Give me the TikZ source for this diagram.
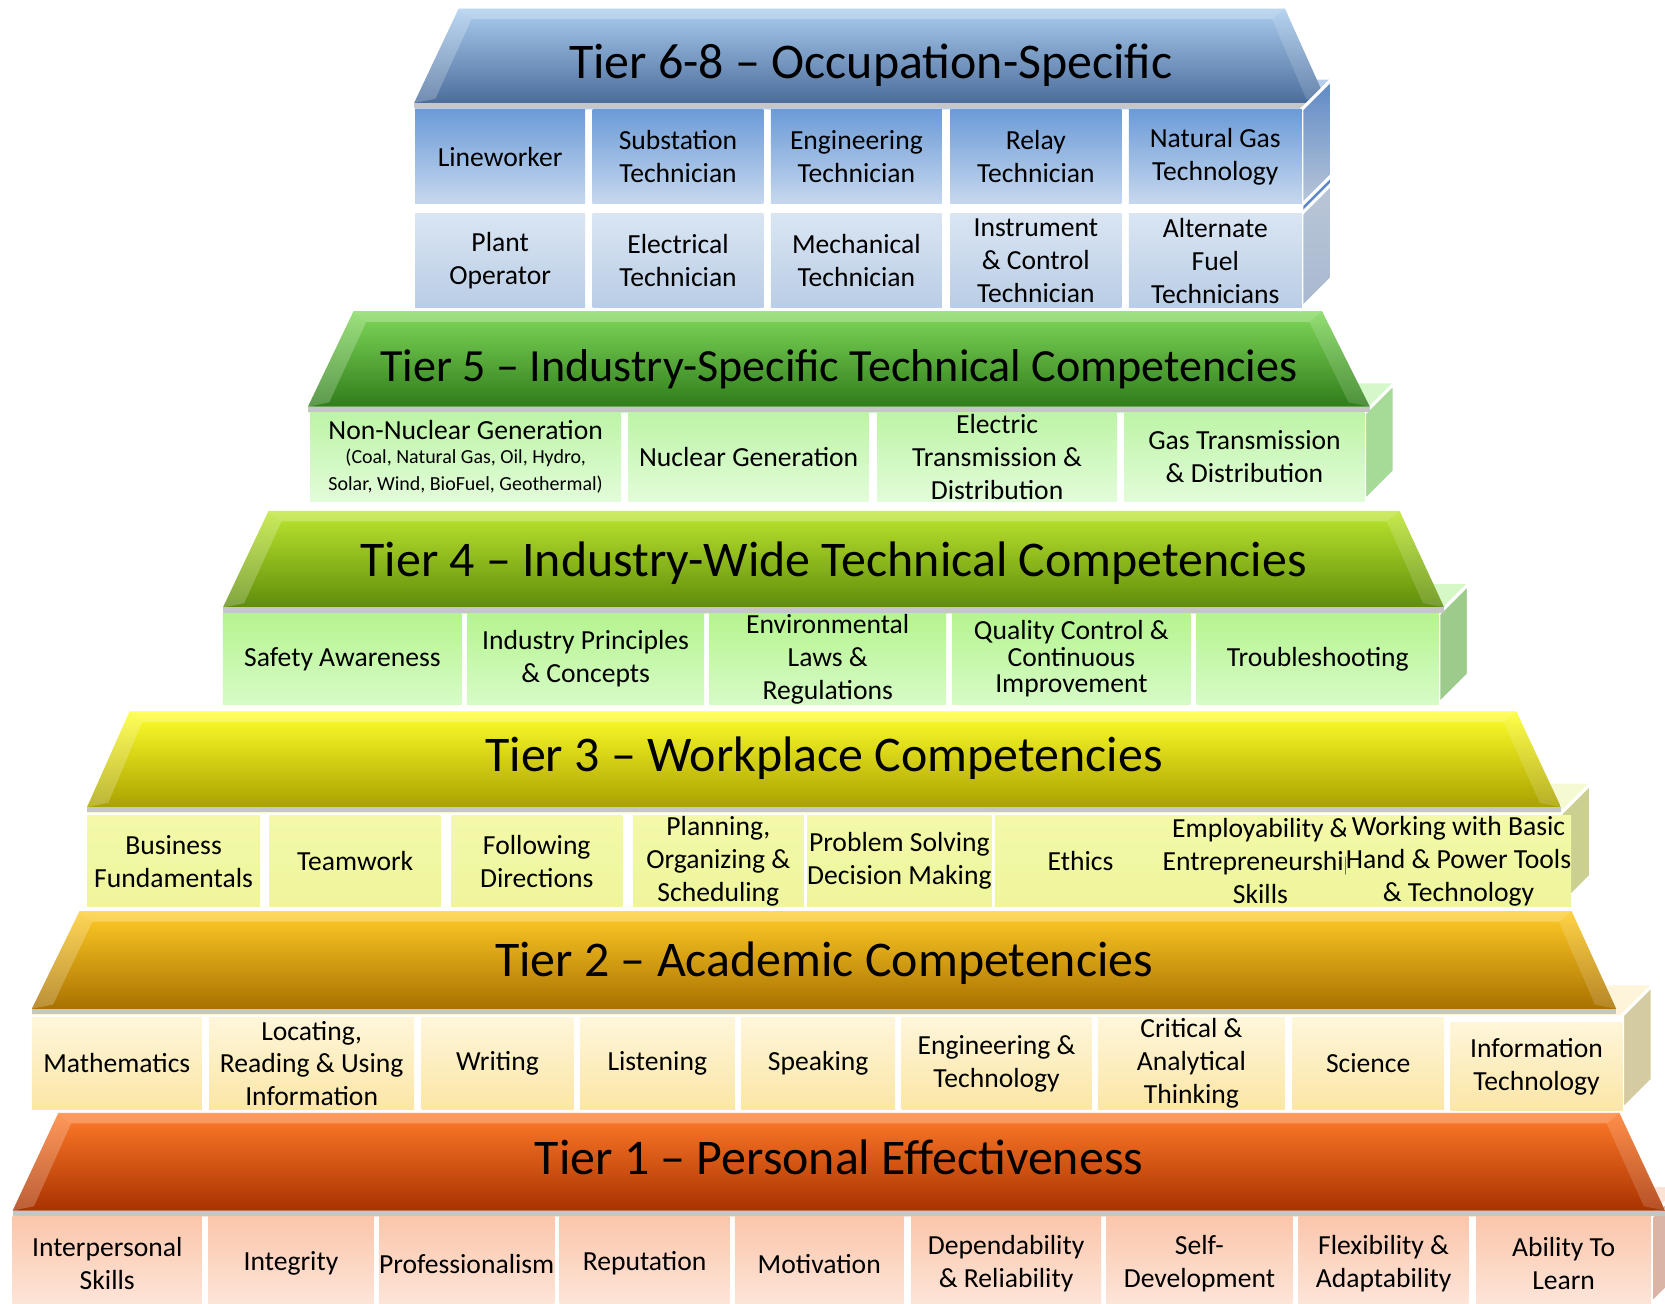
\documentclass[tikz,border=0pt]{standalone}
\usepackage{fontspec}
\setmainfont{Carlito}
\definecolor{top6}{HTML}{A9CBEE}
\definecolor{mid6}{HTML}{6C95C9}
\definecolor{bot6}{HTML}{4B6D9B}
\definecolor{side6}{HTML}{5D89C6}
\definecolor{lid6}{HTML}{B7CDEB}
\definecolor{cella6}{HTML}{6C9BD7}
\definecolor{cellb6}{HTML}{C6D8EE}
\definecolor{cellc6}{HTML}{D9E5F3}
\definecolor{celld6}{HTML}{BACDE5}
\definecolor{sidelow6}{HTML}{A8B8CE}
\definecolor{top5}{HTML}{80D85A}
\definecolor{mid5}{HTML}{4FB030}
\definecolor{bot5}{HTML}{2F7D1A}
\definecolor{side5}{HTML}{A6DA97}
\definecolor{lid5}{HTML}{D4F8CA}
\definecolor{cella5}{HTML}{BDF4A6}
\definecolor{cellb5}{HTML}{E2FCD9}
\definecolor{top4}{HTML}{BDE62E}
\definecolor{mid4}{HTML}{8FC21A}
\definecolor{bot4}{HTML}{5F8C0B}
\definecolor{side4}{HTML}{9DCB8B}
\definecolor{lid4}{HTML}{D5F8C6}
\definecolor{cella4}{HTML}{B5F48F}
\definecolor{cellb4}{HTML}{D7FBC7}
\definecolor{top3}{HTML}{FFFF2A}
\definecolor{mid3}{HTML}{E9E400}
\definecolor{bot3}{HTML}{A9A100}
\definecolor{side3}{HTML}{CBCF90}
\definecolor{lid3}{HTML}{F5FAD3}
\definecolor{cella3}{HTML}{F3F9A9}
\definecolor{cellb3}{HTML}{EEF59B}
\definecolor{top2}{HTML}{FFCB26}
\definecolor{mid2}{HTML}{EBA300}
\definecolor{bot2}{HTML}{A97100}
\definecolor{side2}{HTML}{D4CBA0}
\definecolor{lid2}{HTML}{FDF4D9}
\definecolor{cella2}{HTML}{FFF6DA}
\definecolor{cellb2}{HTML}{FBE6A6}
\definecolor{top1}{HTML}{FF7B2A}
\definecolor{mid1}{HTML}{E45B10}
\definecolor{bot1}{HTML}{A93200}
\definecolor{side1}{HTML}{DAB5A5}
\definecolor{lid1}{HTML}{FCE1D5}
\definecolor{cella1}{HTML}{FBC6AB}
\definecolor{cellb1}{HTML}{FDE7DC}
\newcommand{\smalltxt}{\fontsize{9.4}{11.5}\selectfont}
\begin{document}
\begin{tikzpicture}[x=0.5pt, y=-0.5pt,
        cell/.style={inner sep=0pt, align=center, font=\fontsize{13}{15.5}\selectfont},
        banner/.style={anchor=base, font=\fontsize{23.5}{28}\selectfont}]
    \useasboundingbox (0,0) rectangle (1568,1228);
    \clip (0,0) rectangle (1568,1228);

    % banners, with the top and side of each block behind them
    \foreach \n/\yt/\yb/\tl/\tr/\bl/\br/\ybb/\xr/\ytxt/\txt in {
            6/8/97/432/1210/390/1250/290/1226/73.5/{Tier 6-8 -- Occupation-Specific},
            5/293/383/333/1245/290/1290/472/1285/359/{\fontsize{21.7}{26}\selectfont Tier 5 -- Industry-Specific Technical Competencies},
            4/481/572/253/1318/210/1360/663/1355/542.5/{Tier 4 -- Industry-Wide Technical Competencies},
            3/670/760/122/1428/82/1470/853/1470/727/{Tier 3 -- Workplace Competencies},
            2/858/950/75/1480/30/1522/1045/1528/920/{Tier 2 -- Academic Competencies},
            1/1048/1140/55/1525/12/1568/1228/1555/1106/{Tier 1 -- Personal Effectiveness}}
    {
        \fill[lid\n] (\bl,\yb+6) -- (\bl+28,\yb-22) -- (\xr+28,\yb-22) -- (\xr,\yb+6) -- cycle;
        \filldraw[fill=side\n, draw=white, line width=1.5pt]
            (\xr,\yb+6) -- (\xr+28,\yb-22) -- (\xr+28,\ybb-28) -- (\xr,\ybb) -- cycle;
        \shade[top color=top\n, middle color=mid\n, bottom color=bot\n]
            (\tl,\yt) -- (\tr,\yt) -- (\br,\yb) -- (\bl,\yb) -- cycle;
        \fill[white, opacity=.22] (\tl,\yt) -- (\tl+12,\yt+10) -- (\bl+20,\yb-4) -- (\bl,\yb) -- cycle;
        \fill[white, opacity=.15] (\tr,\yt) -- (\br,\yb) -- (\br-20,\yb-4) -- (\tr-12,\yt+10) -- cycle;
        \fill[white, opacity=.25] (\tl,\yt) -- (\tr,\yt) -- (\tr-12,\yt+10) -- (\tl+12,\yt+10) -- cycle;
        \fill[gray!45] (\bl,\yb) rectangle (\br,\yb+5);
        \node[banner] (tier\n) at ({(\bl+\br)/2},\ytxt) {\txt};
    }
    \shadedraw[top color=side6, bottom color=sidelow6!80!white, draw=white, line width=1.5pt]
        (1226,103) -- (1254,75) -- (1254,165) -- (1226,193) -- cycle;
    \shadedraw[top color=sidelow6!80!white, bottom color=sidelow6, draw=white, line width=1.5pt]
        (1226,201) -- (1254,173) -- (1254,262) -- (1226,290) -- cycle;

    % tier 6-8
    \foreach \xa/\xb/\txt [count=\i] in {391/551/Lineworker, 558/719/{Substation\\Technician},
            726/887/{Engineering\\Technician}, 895/1056/{Relay\\Technician}, 1063/1226/{Natural Gas\\Technology}}
        \node[cell, top color=cella6, bottom color=cellb6, minimum width={(\xb-\xa)*0.5pt},
            minimum height=44.5pt] (occ\i) at ({(\xa+\xb)/2},147.5) {\txt};
    \foreach \xa/\xb/\txt [count=\i] in {391/551/{Plant\\Operator}, 558/719/{Electrical\\Technician},
            726/887/{Mechanical\\Technician}, 895/1056/{Instrument\\\& Control\\Technician},
            1063/1226/{Alternate\\Fuel\\Technicians}}
        \node[cell, top color=cellc6, bottom color=celld6, minimum width={(\xb-\xa)*0.5pt},
            minimum height=44.5pt] (occb\i) at ({(\xa+\xb)/2},245.5) {\txt};

    % tier 5
    \foreach \xa/\xb/\txt [count=\i] in {
            292/585/{Non-Nuclear Generation\\[-4pt]\smalltxt (Coal, Natural Gas, Oil, Hydro,\\[-3pt]\smalltxt Solar, Wind, BioFuel, Geothermal)},
            592/818/{Nuclear Generation}, 826/1052/{Electric\\Transmission \&\\Distribution},
            1059/1285/{Gas Transmission\\\& Distribution}}
        \node[cell, top color=cella5, bottom color=cellb5, minimum width={(\xb-\xa)*0.5pt},
            minimum height=42pt] (ind\i) at ({(\xa+\xb)/2},430) {\txt};

    % tier 4
    \foreach \xa/\xb/\txt [count=\i] in {210/435/Safety Awareness, 440/663/{Industry Principles\\\& Concepts},
            668/891/{Environmental\\Laws \&\\Regulations}, 897/1121/{Quality Control \&\\[-3pt]Continuous\\[-3pt]Improvement},
            1127/1355/Troubleshooting}
        \node[cell, top color=cella4, bottom color=cellb4, minimum width={(\xb-\xa)*0.5pt},
            minimum height=42.5pt] (wide\i) at ({(\xa+\xb)/2},620.5) {\txt};

    % tier 3
    \foreach \xa/\xb/\txt [count=\i] in {82/245/{Business\\Fundamentals}, 254/415/Teamwork,
            425/586/{Following\\Directions}, 596/757/{Planning,\\Organizing \&\\Scheduling},
            764/930/{Problem Solving\\Decision Making}, 937/1098/Ethics,
            1106/1268/{Employability \&\\Entrepreneurship\\Skills},
            1277/1470/{Working with Basic\\Hand \& Power Tools\\\& Technology}}
        \node[cell, top color=cella3, bottom color=cellb3, minimum width={(\xb-\xa)*0.5pt},
            minimum height=43pt] (work\i) at ({(\xa+\xb)/2},811) {\txt};

    % tier 2
    \foreach \xa/\xb/\txt [count=\i] in {30/190/Mathematics, 197/390/{Locating,\\Reading \& Using\\Information},
            397/540/Writing, 546/692/Listening, 698/843/Speaking, 849/1028/{Engineering \&\\Technology},
            1034/1210/{Critical \&\\Analytical\\Thinking}, 1217/1360/Science}
        \node[cell, top color=cella2, bottom color=cellb2, minimum width={(\xb-\xa)*0.5pt},
            minimum height=43.5pt] (acad\i) at ({(\xa+\xb)/2},1001.5) {\txt};
    \node[cell, top color=cella2, bottom color=cellb2, minimum width=81pt, minimum height=41.5pt]
        (acad9) at (1447,1004.5) {Information\\Technology};

    % tier 1
    \foreach \xa/\xb/\txt [count=\i] in {12/190/{Interpersonal\\Skills}, 196/352/Integrity,
            357/522/Professionalism, 527/687/Reputation, 692/851/Motivation,
            858/1037/{Dependability\\\& Reliability}, 1042/1217/{Self-\\Development},
            1223/1383/{Flexibility \&\\Adaptability}, 1390/1555/{Ability To\\Learn}}
        \node[cell, top color=cella1, bottom color=cellb1, minimum width={(\xb-\xa)*0.5pt},
            minimum height=44pt] (pers\i) at ({(\xa+\xb)/2},1190) {\txt};
\end{tikzpicture}
\end{document}
